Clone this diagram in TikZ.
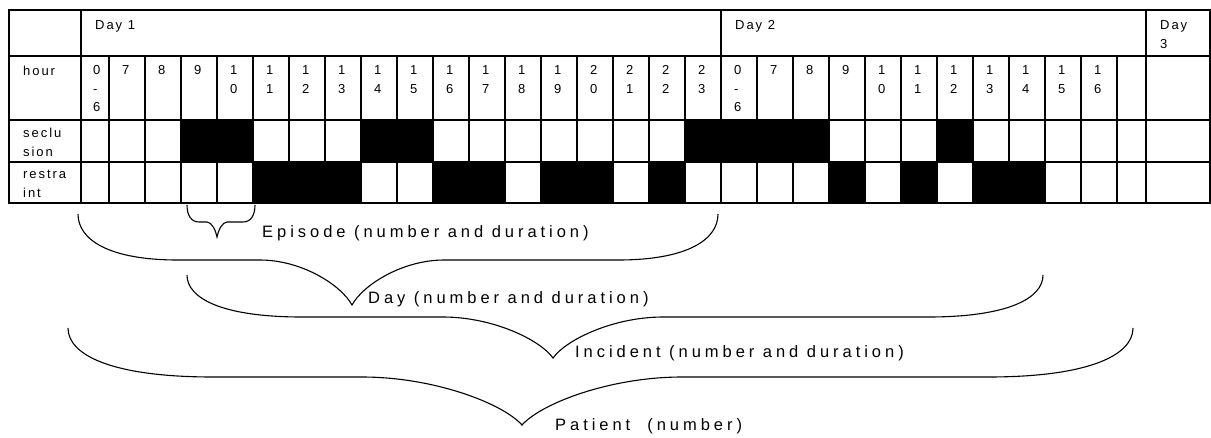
\documentclass[tikz,border=0pt]{standalone}
\usepackage{fontspec}
\setmainfont{Liberation Sans}
\newfontfamily\tabfont[LetterSpace=15]{Liberation Sans}
\newfontfamily\labfont[LetterSpace=24]{Liberation Sans}
\newcommand\curlybr[8]{% xl, yt, xt, yb, xr, yh, e, t
  \draw[bracestyle] (#1,#2) .. controls ({#1},{#2+0.55*(#6-#2)}) and ({#1+0.3*#7},#6) .. ({#1+#7},#6)
    -- ({#3-#8},#6) .. controls ({#3-0.55*#8},#6) and ({#3-0.12*#8},{#6+0.55*(#4-#6)}) .. (#3,#4)
    .. controls ({#3+0.12*#8},{#6+0.55*(#4-#6)}) and ({#3+0.55*#8},#6) .. ({#3+#8},#6)
    -- ({#5-#7},#6) .. controls ({#5-0.3*#7},#6) and ({#5},{#2+0.55*(#6-#2)}) .. (#5,#2);
}
\begin{document}
\begin{tikzpicture}[x=1pt,y=-1pt,
  gridline/.style={line width=1.3pt},
  outerline/.style={line width=2.8pt},
  blk/.style={fill=black},
  celltext/.style={anchor=north west, inner sep=0pt, align=left, font=\tabfont\fontsize{13}{18.5}\selectfont},
  bracestyle/.style={line width=1.1pt},
  lab/.style={anchor=base west, inner sep=0pt, font=\labfont\fontsize{16.5}{19}\selectfont}]
\useasboundingbox (0,0) rectangle (1211,437);
% black cells
\foreach \i in {3,4,8,9,17,18,19,20,24}
  \fill[blk] ({73+36*\i},120) rectangle ({109+36*\i},162);
\foreach \i in {5,6,7,10,11,13,14,16,21,23,25,26}
  \fill[blk] ({73+36*\i},162) rectangle ({109+36*\i},203);
% grid
\draw[gridline] (9,56) -- (1210,56) (9,120) -- (1210,120) (9,162) -- (1210,162);
\draw[gridline] (81,10) -- (81,203) (721,10) -- (721,203) (1146,10) -- (1146,203);
\foreach \i in {1,...,17,19,20,...,29}
  \draw[gridline] ({73+36*\i},56) -- ({73+36*\i},203);
\draw[outerline] (9,10) rectangle (1210,203);
% texts
\node[celltext] (d1) at (95,20.5) {Day 1};
\node[celltext] (d2) at (735,20.5) {Day 2};
\node[celltext] (d3) at (1160,20.5) {Day\\3};
\node[celltext] (hour) at (23,65.5) {hour};
\node[celltext] (secl) at (23,128) {seclu\\sion};
\node[celltext] (restr) at (23,170) {restra\\int};
\node[celltext] (h0) at (93,65.5) {0\\-\\6};
\foreach \i/\t in {1/7,2/8,3/9,4/{1\\0},5/{1\\1},6/{1\\2},7/{1\\3},8/{1\\4},9/{1\\5},10/{1\\6},11/{1\\7},12/{1\\8},13/{1\\9},14/{2\\0},15/{2\\1},16/{2\\2},17/{2\\3},18/{0\\-\\6},19/7,20/8,21/9,22/{1\\0},23/{1\\1},24/{1\\2},25/{1\\3},26/{1\\4},27/{1\\5},28/{1\\6}}
  \node[celltext] (h\i) at ({86+36*\i},65.5) {\t};
% braces
\curlybr{187}{205}{217}{237}{255}{222}{12}{10}
\curlybr{78}{214}{352}{305}{718}{260}{100}{92}
\curlybr{187}{275}{553}{358}{1043}{317}{115}{110}
\curlybr{68}{328}{522}{425}{1133}{377}{145}{160}
\node[lab] (episode) at (262,237) {Episode (number and duration)};
\node[lab] (day) at (368,303) {Day (number and duration)};
\node[lab] (incident) at (575,357) {Incident (number and duration)};
\node[lab] (patient) at (555,430) {Patient~~(number)};
\end{tikzpicture}
\end{document}
